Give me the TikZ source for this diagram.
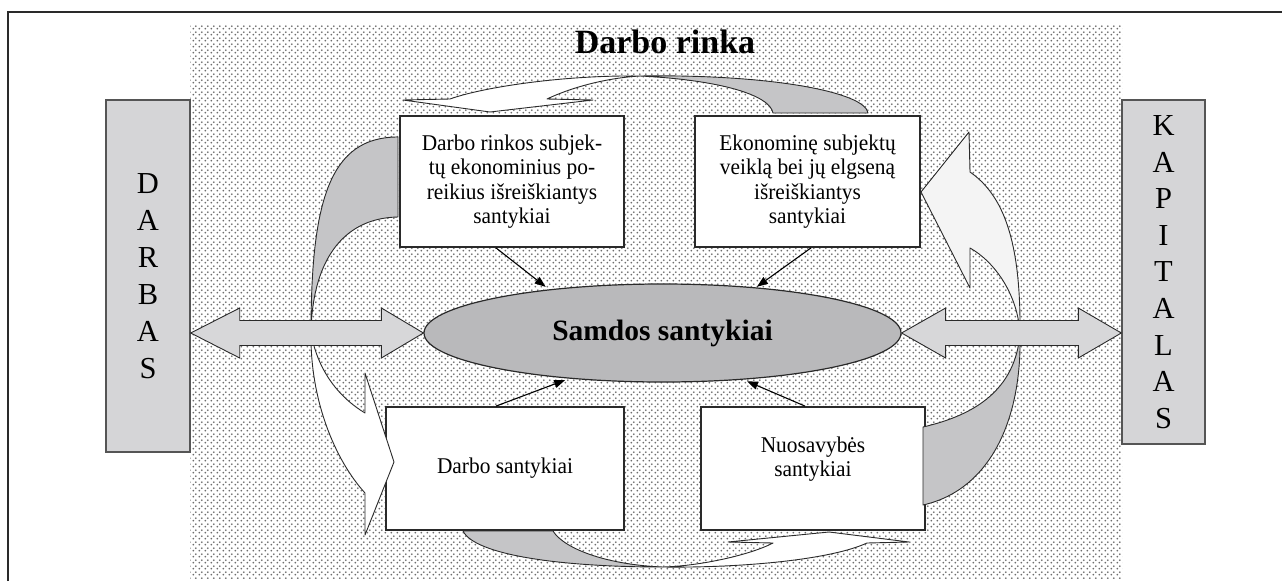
\documentclass[tikz,border=0pt]{standalone}
\usepackage{fontspec}
\setmainfont{Liberation Serif}
\newfontfamily\condserif{Liberation Serif}[FakeStretch=0.95]
\usetikzlibrary{arrows.meta,shapes.geometric,patterns.meta,calc}
\tikzdeclarepattern{
  name=bgdots,
  type=uncolored,
  bounding box={(0pt,0pt) and (6pt,6pt)},
  tile size={(6pt,6pt)},
  code={
    \fill (1.5pt,1.5pt) circle (1.15pt);
    \fill (4.5pt,4.5pt) circle (1.15pt);
  }
}
\definecolor{linec}{HTML}{2A2A2A}
\definecolor{sidegray}{HTML}{D5D5D7}
\definecolor{ellgray}{HTML}{B9B9BB}
\definecolor{arrgray}{HTML}{D7D7D9}
\definecolor{backgray}{HTML}{C5C5C7}
\definecolor{offwhite}{HTML}{F4F4F4}
\definecolor{dotc}{HTML}{6E6E6E}
\begin{document}
\begin{tikzpicture}[x=1pt,y=-1pt,
  sidebox/.style={rectangle,draw=linec!80,line width=1.4pt,fill=sidegray,inner sep=0pt,align=center,
    font=\fontsize{30.5}{37}\selectfont},
  textbox/.style={rectangle,draw=linec,line width=1.8pt,fill=white,inner sep=0pt,align=center,
    font=\condserif\fontsize{22.5}{24.5}\selectfont},
  backpart/.style={fill=backgray,draw=linec,line width=0.9pt,line join=round},
  frontpart/.style={fill=white,draw=linec,line width=0.9pt,line join=round},
  harrow/.style={fill=arrgray,draw=linec,line width=0.9pt,line join=miter},
  thinarrow/.style={draw=black,line width=1.1pt,-{Triangle[length=11pt,width=8pt]},shorten >=4pt}
]
\useasboundingbox (0,0) rectangle (1282,581);

% dotted market area
\fill[pattern=bgdots,pattern color=dotc] (190,25) rectangle (1122,578);

% outer frame
\draw[linec,line width=1.1pt] (8,581) -- (8,12) -- (1282,12);

% title
\node[font=\bfseries\fontsize{34}{38}\selectfont] (title) at (665,42) {Darbo rinka};

% side boxes
\node[sidebox,minimum width=84pt,minimum height=352pt] (darbas) at (148,276) {D\\A\\R\\B\\A\\S};
\node[sidebox,minimum width=83pt,minimum height=344pt,font=\fontsize{30.5}{36.6}\selectfont] (kapital) at (1163.5,272) {K\\A\\P\\I\\T\\A\\L\\A\\S};

% text boxes
\node[textbox,minimum width=224pt,minimum height=131pt] (b1) at (512,181.5)
  {Darbo rinkos subjek-\\tų ekonominius po-\\reikius išreiškiantys\\santykiai};
\node[textbox,minimum width=225pt,minimum height=131pt] (b2) at (807.5,181.5)
  {Ekonominę subjektų\\veiklą bei jų elgseną\\išreiškiantys\\santykiai};
\node[textbox,minimum width=238pt,minimum height=123pt] (b3) at (505,468.5) {Darbo santykiai};
\node[textbox,minimum width=224pt,minimum height=123pt] (b4) at (813,468.5) {};
\node[font=\condserif\fontsize{22.5}{24.5}\selectfont,align=center] (b4text) at (813,459) {Nuosavybės\\santykiai};

% central ellipse
\node[ellipse,draw=linec,fill=ellgray,line width=1.2pt,minimum width=477pt,minimum height=98pt,inner sep=0pt,
  font=\bfseries\fontsize{29.5}{34}\selectfont] (ell) at (662.5,333) {Samdos santykiai};

% top curved arrow (from b2 to b1)
\path[backpart] (868,113) .. controls (865,92) and (770,74) .. (640,76)
  .. controls (720,80) and (770,95) .. (773,113) -- cycle;
\path[frontpart] (640,76) .. controls (560,75) and (480,88) .. (450,99)
  -- (403,100) -- (490,112) -- (593,100) -- (547,99)
  .. controls (570,88) and (605,78) .. (640,76) -- cycle;

% left curved arrow (from b1 to b3)
\path[backpart] (398,137) .. controls (330,137) and (311,200) .. (311,333)
  .. controls (312,265) and (340,218) .. (398,217) -- cycle;
\path[frontpart] (311,333) .. controls (310,400) and (335,460) .. (365,493)
  -- (365,535) -- (394,462) -- (365,373) -- (365,413)
  .. controls (340,398) and (318,372) .. (311,333) -- cycle;

% bottom curved arrow (from b3 to b4)
\path[backpart] (463,531) .. controls (475,555) and (560,567) .. (663,567)
  .. controls (610,565) and (565,550) .. (553,531) -- cycle;
\path[frontpart] (663,567) .. controls (740,568) and (830,560) .. (867,543)
  -- (909,542) -- (829,532) -- (728,542) -- (773,543)
  .. controls (750,555) and (700,566) .. (663,567) -- cycle;

% right curved arrow (from b4 to b2)
\path[backpart] (923,505) .. controls (990,490) and (1022,420) .. (1020,334)
  .. controls (1015,390) and (975,415) .. (923,427) -- cycle;
\path[frontpart,fill=offwhite] (970,172) .. controls (1003,195) and (1021,240) .. (1020,334)
  .. controls (1018,295) and (995,262) .. (970,248)
  -- (970,288) -- (921,192) -- (969,132) -- cycle;

% horizontal double arrows
\draw[harrow] (darbas.east |- ell.west) -- ++(49,-25) -- ++(0,12.5)
  -- ($(ell.west)+(-42,-12.5)$) -- ($(ell.west)+(-42,-25)$) -- (ell.west)
  -- ($(ell.west)+(-42,25)$) -- ($(ell.west)+(-42,12.5)$)
  -- ($(darbas.east |- ell.west)+(49,12.5)$) -- ($(darbas.east |- ell.west)+(49,25)$) -- cycle;
\draw[harrow] (ell.east) -- ++(44,-25) -- ++(0,12.5)
  -- ($(kapital.west |- ell.east)+(-43,-12.5)$) -- ($(kapital.west |- ell.east)+(-43,-25)$) -- (kapital.west |- ell.east)
  -- ($(kapital.west |- ell.east)+(-43,25)$) -- ($(kapital.west |- ell.east)+(-43,12.5)$)
  -- ($(ell.east)+(44,12.5)$) -- ($(ell.east)+(44,25)$) -- cycle;

% thin arrows into the ellipse
\draw[thinarrow] ([xshift=-16pt]b1.south) -- (ell.159);
\draw[thinarrow,shorten >=1pt] ([xshift=3.5pt]b2.south) -- (ell.26);
\draw[thinarrow] ([xshift=-9pt]b3.north) -- (ell.206);
\draw[thinarrow] ([xshift=-8pt]b4.north) -- (ell.330);
\end{tikzpicture}
\end{document}
